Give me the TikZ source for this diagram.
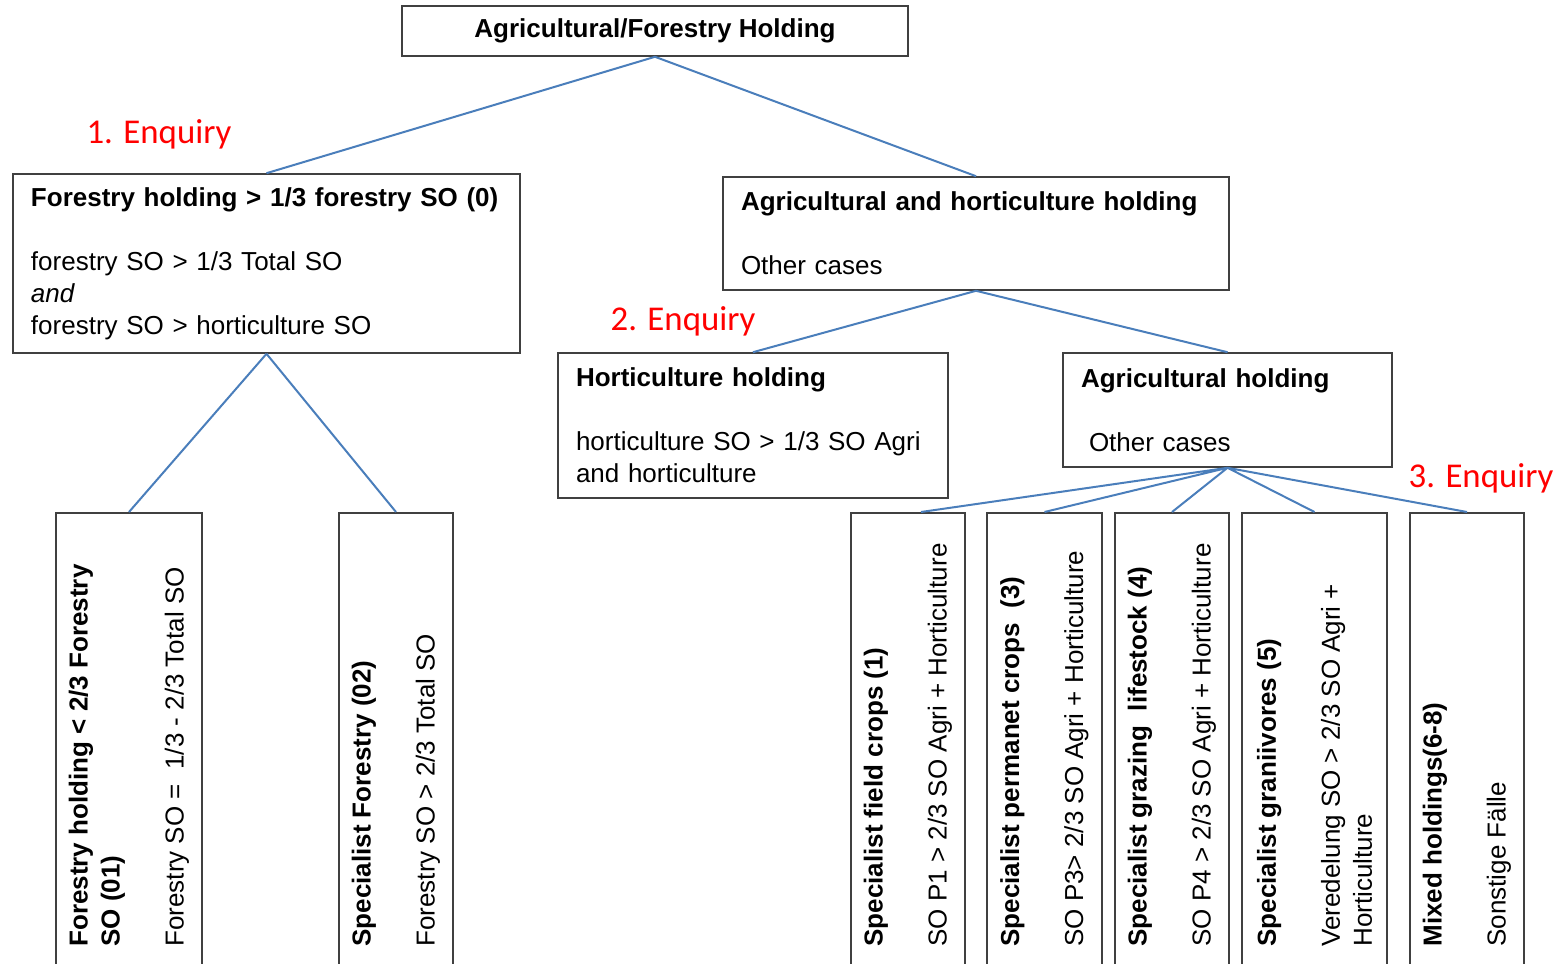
\documentclass[tikz,border=0pt]{standalone}
\usepackage{fontspec}
\setmainfont{Liberation Sans}
\newfontfamily\enqfont{Carlito}
\usepackage{xcolor}
\usepackage{tikz}
\usetikzlibrary{positioning}
\definecolor{linkblue}{RGB}{74,126,187}
\definecolor{boxgray}{RGB}{64,64,64}

\tikzset{
  holding/.style={draw=boxgray,line width=0.8pt,align=left,inner xsep=9pt,inner ysep=0pt},
  leaf/.style={draw=boxgray,line width=0.8pt,anchor=north,minimum height=244pt,inner sep=0pt},
  leaftext/.style={rotate=90,anchor=west,align=left,inner sep=0pt},
  enquiry/.style={text=red,font=\enqfont\fontsize{17.4}{20}\selectfont},
  link/.style={draw=linkblue,line width=1pt}
}

\begin{document}
\begin{tikzpicture}[x=0.5pt,y=-0.5pt,font=\fontsize{13}{16}\selectfont]
  \useasboundingbox (0,0) rectangle (1562,963);
  \clip (0,0) rectangle (1562,963);
  \coordinate (base) at (0,947);

  % upper levels
  \node[holding,align=center,minimum width=253pt,minimum height=25pt] (top) at (655,31) {\textbf{Agricultural/Forestry Holding}};
  \node[holding,text width=235.5pt,minimum height=89.5pt] (fo) at (266.5,263.5)
    {\textbf{Forestry holding > 1/3 forestry SO (0)}\\[16pt]forestry SO > 1/3 Total SO\\\textit{and}\\forestry SO > horticulture SO};
  \node[holding,text width=235pt,minimum height=56.5pt] (ah) at (976,233.5)
    {\textbf{Agricultural and horticulture holding}\\[16pt]Other cases};
  \node[holding,text width=177pt,minimum height=72.5pt] (ho) at (753,425.5)
    {\textbf{Horticulture holding}\\[16pt]horticulture SO > 1/3 SO Agri\\and horticulture};
  \node[holding,text width=146.5pt,minimum height=57pt] (ag) at (1227.5,410)
    {\textbf{Agricultural holding}\\[16pt]\hspace*{4pt}Other cases};

  % leaves
  \node[leaf,minimum width=73pt] (b1) at (129,512) {};
  \node[leaf,minimum width=57pt] (b2) at (396,512) {};
  \node[leaf,minimum width=57pt] (b3) at (908,512) {};
  \node[leaf,minimum width=57.5pt] (b4) at (1044.5,512) {};
  \node[leaf,minimum width=57pt] (b5) at (1172,512) {};
  \node[leaf,minimum width=72.5pt] (b6) at (1314.5,512) {};
  \node[leaf,minimum width=57pt] (b7) at (1467,512) {};

  \node[leaftext] (t1) at (b1 |- base) {\textbf{Forestry holding < 2/3 Forestry}\\\textbf{SO (01)}\\[16pt]Forestry SO = \ 1/3 - 2/3 Total SO};
  \node[leaftext] (t2) at (b2 |- base) {\textbf{Specialist Forestry (02)}\\[16pt]Forestry SO > 2/3 Total SO};
  \node[leaftext] (t3) at (b3 |- base) {\textbf{Specialist field crops (1)}\\[16pt]SO P1 > 2/3 SO Agri + Horticulture};
  \node[leaftext] (t4) at (b4 |- base) {\textbf{Specialist permanet crops \ (3)}\\[16pt]SO P3> 2/3 SO Agri + Horticulture};
  \node[leaftext] (t5) at (b5 |- base) {\textbf{Specialist grazing \ lifestock (4)}\\[16pt]SO P4 > 2/3 SO Agri + Horticulture};
  \node[leaftext] (t6) at (b6 |- base) {\textbf{Specialist graniivores (5)}\\[16pt]Veredelung SO > 2/3 SO Agri +\\Horticulture};
  \node[leaftext] (t7) at (b7 |- base) {\textbf{Mixed holdings(6-8)}\\[16pt]Sonstige Fälle};

  % enquiry labels
  \node[enquiry] (enq1) at (159,134) {1. Enquiry};
  \node[enquiry] (enq2) at (683,321) {2. Enquiry};
  \node[enquiry] (enq3) at (1481,478) {3. Enquiry};

  % connectors
  \path[link] (top.south) -- (fo.north)
              (top.south) -- (ah.north)
              (fo.south) -- (b1.north)
              (fo.south) -- (b2.north)
              (ah.south) -- (ho.north)
              (ah.south) -- (ag.north)
              (ag.south) -- ([xshift=6.5pt]b3.north)
              (ag.south) -- (b4.north)
              (ag.south) -- (b5.north)
              (ag.south) -- (b6.north)
              (ag.south) -- (b7.north);
\end{tikzpicture}
\end{document}
